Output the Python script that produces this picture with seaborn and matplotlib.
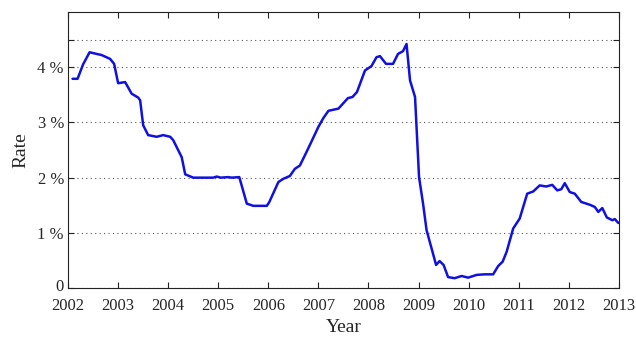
import matplotlib
matplotlib.use("Agg")
import matplotlib.pyplot as plt
import matplotlib.transforms as mtransforms
import seaborn as sns
import pandas as pd

# Interest rate (%) against decimal year
years = [
    2002.09, 2002.19, 2002.30, 2002.43, 2002.57, 2002.67, 2002.84, 2002.92,
    2003.00, 2003.14, 2003.27, 2003.40, 2003.44, 2003.50, 2003.60, 2003.77,
    2003.90, 2004.04, 2004.10, 2004.27, 2004.34, 2004.50, 2004.70, 2004.90,
    2004.97, 2005.05, 2005.20, 2005.27, 2005.42, 2005.57, 2005.70, 2005.97,
    2006.02, 2006.20, 2006.30, 2006.43, 2006.53, 2006.63, 2006.76, 2006.86,
    2007.00, 2007.10, 2007.20, 2007.40, 2007.46, 2007.59, 2007.68, 2007.77,
    2007.93, 2008.06, 2008.16, 2008.23, 2008.35, 2008.49, 2008.59, 2008.69,
    2008.76, 2008.83, 2008.93, 2009.01, 2009.09, 2009.16, 2009.26, 2009.35,
    2009.42, 2009.50, 2009.59, 2009.72, 2009.86, 2009.99, 2010.16, 2010.32,
    2010.49, 2010.59, 2010.68, 2010.76, 2010.89, 2011.02, 2011.17, 2011.29,
    2011.42, 2011.55, 2011.67, 2011.77, 2011.85, 2011.92, 2012.02, 2012.12,
    2012.25, 2012.42, 2012.52, 2012.59, 2012.67, 2012.76, 2012.87, 2012.92,
    2012.99,
]
rates = [
    3.79, 3.79, 4.05, 4.27, 4.24, 4.22, 4.15, 4.06,
    3.71, 3.73, 3.52, 3.45, 3.40, 2.95, 2.77, 2.74,
    2.77, 2.74, 2.68, 2.37, 2.06, 2.00, 2.00, 2.00,
    2.02, 2.00, 2.01, 2.00, 2.01, 1.53, 1.49, 1.49,
    1.56, 1.92, 1.98, 2.03, 2.16, 2.22, 2.46, 2.65,
    2.92, 3.08, 3.21, 3.25, 3.31, 3.44, 3.46, 3.55,
    3.94, 4.02, 4.18, 4.20, 4.06, 4.06, 4.24, 4.29,
    4.42, 3.76, 3.46, 2.01, 1.53, 1.05, 0.72, 0.42,
    0.49, 0.42, 0.20, 0.18, 0.22, 0.19, 0.24, 0.25,
    0.25, 0.40, 0.48, 0.66, 1.08, 1.26, 1.71, 1.75,
    1.86, 1.84, 1.87, 1.77, 1.79, 1.90, 1.74, 1.71,
    1.56, 1.51, 1.47, 1.38, 1.45, 1.28, 1.23, 1.25,
    1.18,
]

year_ticks = list(range(2002, 2014))
rate_ticks = [0, 1, 2, 3, 4, 4.5]
rate_labels = ["0", "1 %", "2 %", "3 %", "4 %", ""]

df = pd.DataFrame({"Year": years, "Rate": rates})

sns.set_style("white")
plt.rcParams["font.family"] = ["Liberation Serif", "DejaVu Serif"]

fig = plt.figure(figsize=(6.36, 3.41), dpi=100)
ax = fig.add_axes([0.107, 0.155, 0.866, 0.810])

sns.lineplot(data=df, x="Year", y="Rate", ax=ax, color="#1010e0",
             linewidth=1.8, estimator=None, sort=False)

ax.set_xlim(2002, 2013)
ax.set_ylim(0, 5)
ax.set_xticks(year_ticks)
ax.set_xticklabels([str(y) for y in year_ticks], fontsize=12)
ax.set_yticks(rate_ticks)
ax.set_yticklabels(rate_labels, fontsize=12)

ax.yaxis.grid(True, linestyle=(0, (1, 3)), color="#555555", linewidth=0.8)
ax.xaxis.grid(False)

ax.tick_params(direction="in", length=4, width=0.8, color="#222222",
               top=True, right=True, bottom=True, left=True)
ax.tick_params(axis="x", pad=7)
ax.tick_params(axis="y", pad=3)

# nudge the "0" label up a touch so it clears the first year label
zero_lbl = ax.yaxis.get_major_ticks()[0].label1
zero_lbl.set_transform(zero_lbl.get_transform()
                       + mtransforms.ScaledTranslation(0, 2.5 / 72, fig.dpi_scale_trans))

for s in ax.spines.values():
    s.set_visible(True)
    s.set_color("#222222")
    s.set_linewidth(0.8)

ax.set_xlabel("Year", fontsize=14, labelpad=4)
ax.set_ylabel("Rate", fontsize=14, labelpad=6)

fig.savefig("out.png", dpi=100)
